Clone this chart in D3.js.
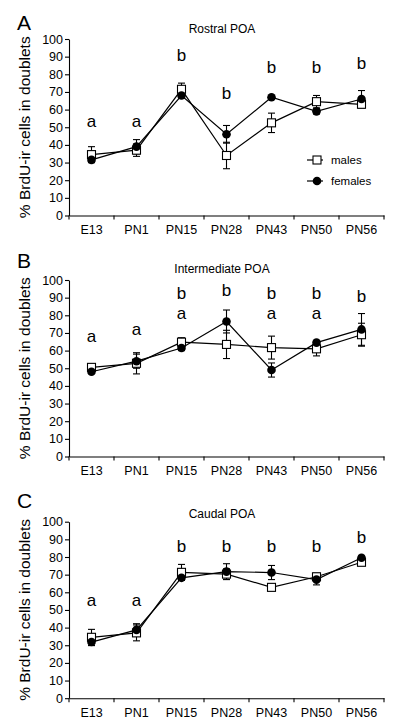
<!DOCTYPE html>
<html><head><meta charset="utf-8">
<script src="https://cdn.jsdelivr.net/npm/d3@7"></script>
<style>body{margin:0;background:#fff}svg{display:block}</style>
</head><body>
<script>
const categories = ["E13","PN1","PN15","PN28","PN43","PN50","PN56"];
const yTicks = [0,10,20,30,40,50,60,70,80,90,100];

// Panel A - Rostral POA
const maleA = [34.5,37,71.5,34,52.5,64.5,63];
const maleAErr = [4.5,3.5,3.5,7.5,5.5,3.5,2];
const femaleA = [31.5,39,68,46,67,59,66];
const femaleAErr = [1.5,4,1.5,5,1,1.5,4.8];
const lettersA = ["a","a","b","b","b","b","b"];
const letterLevelA = [50,50,87.5,66,81,81,83];

// Panel B - Intermediate POA
const maleB = [50.5,52.8,64.8,63.5,61.7,61,69];
const maleBErr = [1.5,6,2.5,8,6.5,4,6.5];
const femaleB = [48,54,61.5,76.5,49,64.5,72];
const femaleBErr = [1,4,1.5,6.5,4,1,9];
const lettersB = ["a","a","ba","b","ba","ba","b"];
const letterLevelB = [64.8,68.8,77.8,91,77.8,77.8,87.7];

// Panel C - Caudal POA
const maleC = [34.5,37,71.3,70.3,62.8,68.8,77];
const maleCErr = [4.5,4.5,4.5,3,1.5,2,1.5];
const femaleC = [31.8,38.7,68.2,71.7,71.2,67.2,79.6];
const femaleCErr = [2,3.5,1.5,4.5,4,3,1];
const lettersC = ["a","a","b","b","b","b","b"];
const letterLevelC = [52,52,83,83,83,83,87.8];

const seriesNames = ["males","females"];

const panels = [
  {id:"A", title:"Rostral POA", top:39, male:maleA, maleErr:maleAErr, female:femaleA, femaleErr:femaleAErr, letters:lettersA, levels:letterLevelA, legend:true, titleDy:-6, idDy:-9},
  {id:"B", title:"Intermediate POA", top:280, male:maleB, maleErr:maleBErr, female:femaleB, femaleErr:femaleBErr, letters:lettersB, levels:letterLevelB, legend:false, titleDy:-7, idDy:-12},
  {id:"C", title:"Caudal POA", top:521.7, male:maleC, maleErr:maleCErr, female:femaleC, femaleErr:femaleCErr, letters:lettersC, levels:letterLevelC, legend:false, titleDy:-4, idDy:-14}
];

const W = 400, H = 724;
const font = "'Liberation Sans', Arial, Helvetica, sans-serif";
const plotH = 176.5;
const x0 = 69, x1 = 384;

const svg = d3.select("body").append("svg").attr("width",W).attr("height",H)
  .style("font-family", font);

const x = d3.scaleBand().domain(categories).range([x0,x1]).padding(0);

panels.forEach(p => {
  const g = svg.append("g");
  const y = d3.scaleLinear().domain([0,100]).range([p.top+plotH, p.top]);

  // y axis
  const ya = g.append("g").attr("transform",`translate(${x0},0)`)
    .call(d3.axisLeft(y).tickValues(yTicks).tickSize(4).tickSizeOuter(0).tickPadding(2));
  ya.selectAll("text").style("font-size","12.5px").style("font-family",font).attr("fill","#000");
  ya.selectAll("line,path").attr("stroke","#000").attr("stroke-width",1.1);

  // x axis
  const xa = g.append("g").attr("transform",`translate(0,${y(0)})`)
    .call(d3.axisBottom(x).tickSize(0).tickSizeOuter(0).tickPadding(10));
  xa.selectAll("text").style("font-size","12.5px").style("font-family",font).attr("fill","#000");
  xa.select("path").attr("stroke","#000").attr("stroke-width",1.1);
  const bounds = categories.map(c => x(c)).concat([x1]);
  xa.selectAll("line.bt").data(bounds).enter().append("line").attr("class","bt")
    .attr("x1",d=>d).attr("x2",d=>d).attr("y1",0).attr("y2",4)
    .attr("stroke","#000").attr("stroke-width",1.1);

  // y label
  g.append("text")
    .attr("transform",`translate(30,${(y(0)+y(100))/2}) rotate(-90)`)
    .attr("text-anchor","middle").style("font-size","15.5px").text("% BrdU-ir cells in doublets");

  // title & panel letter
  g.append("text").attr("x",222).attr("y",p.top+p.titleDy).attr("text-anchor","middle")
    .style("font-size","12px").text(p.title);
  g.append("text").attr("x",17).attr("y",p.top+p.idDy)
    .style("font-size","21px").text(p.id);

  const cx = c => x(c) + x.bandwidth()/2;
  const line = d3.line().x(d=>cx(d.c)).y(d=>y(d.v));
  const mk = (vals, errs) => categories.map((c,i)=>({c, v:vals[i], e:errs[i]}));
  const males = mk(p.male, p.maleErr), females = mk(p.female, p.femaleErr);

  [males, females].forEach(s => {
    g.append("path").datum(s).attr("d",line).attr("fill","none")
      .attr("stroke","#000").attr("stroke-width",1.2);
  });

  // error bars
  [males, females].forEach(s => {
    const eb = g.selectAll(null).data(s).enter().append("g");
    eb.append("line").attr("x1",d=>cx(d.c)).attr("x2",d=>cx(d.c))
      .attr("y1",d=>y(d.v-d.e)).attr("y2",d=>y(d.v+d.e)).attr("stroke","#000").attr("stroke-width",1.1);
    eb.append("line").attr("x1",d=>cx(d.c)-3.5).attr("x2",d=>cx(d.c)+3.5)
      .attr("y1",d=>y(d.v+d.e)).attr("y2",d=>y(d.v+d.e)).attr("stroke","#000").attr("stroke-width",1.1);
    eb.append("line").attr("x1",d=>cx(d.c)-3.5).attr("x2",d=>cx(d.c)+3.5)
      .attr("y1",d=>y(d.v-d.e)).attr("y2",d=>y(d.v-d.e)).attr("stroke","#000").attr("stroke-width",1.1);
  });

  // markers
  g.selectAll(null).data(males).enter().append("rect")
    .attr("x",d=>cx(d.c)-4).attr("y",d=>y(d.v)-4).attr("width",8).attr("height",8)
    .attr("fill","#fff").attr("stroke","#000").attr("stroke-width",1.1);
  g.selectAll(null).data(females).enter().append("circle")
    .attr("cx",d=>cx(d.c)).attr("cy",d=>y(d.v)).attr("r",4.3).attr("fill","#000");

  // significance letters
  categories.forEach((c,i) => {
    const chars = p.letters[i].split("");
    chars.forEach((ch,j) => {
      g.append("text").attr("x",cx(c)).attr("y",y(p.levels[i]) - (chars.length-1-j)*20)
        .attr("text-anchor","middle").style("font-size","17px").text(ch);
    });
  });

  // legend
  if (p.legend) {
    const lg = g.append("g");
    seriesNames.forEach((name,i) => {
      const ly = p.top + 121 + i*21;
      lg.append("line").attr("x1",307).attr("x2",323).attr("y1",ly).attr("y2",ly)
        .attr("stroke","#000").attr("stroke-width",1.2);
      if (i===0) lg.append("rect").attr("x",313).attr("y",ly-4).attr("width",8).attr("height",8)
        .attr("fill","#fff").attr("stroke","#000").attr("stroke-width",1.1);
      else lg.append("circle").attr("cx",317).attr("cy",ly).attr("r",4.3).attr("fill","#000");
      lg.append("text").attr("x",331).attr("y",ly+4).style("font-size","11.5px").text(name);
    });
  }
});
</script>
</body></html>
